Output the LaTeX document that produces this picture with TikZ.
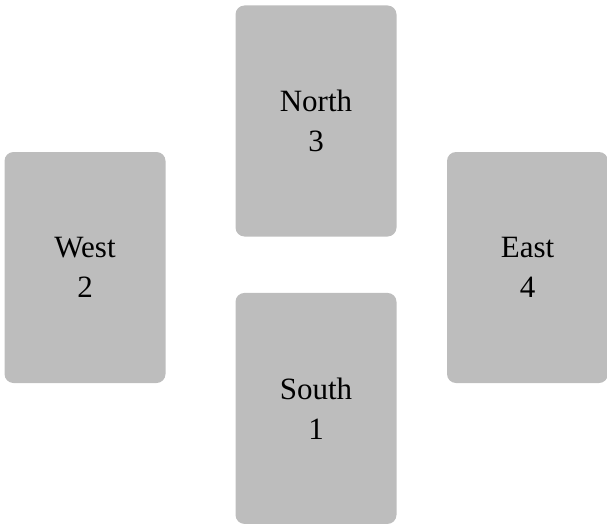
\documentclass[tikz,border=0pt]{standalone}
\usepackage{fontspec}
\setmainfont{Liberation Serif}
\usepackage{xcolor}
\usetikzlibrary{positioning}
\definecolor{cardfill}{HTML}{BDBDBD}
\tikzset{
  card/.style={fill=cardfill, rounded corners=9pt, minimum width=161pt, minimum height=231pt,
    align=center, inner sep=0pt, font=\fontsize{31}{40}\selectfont}
}

\begin{document}
\begin{tikzpicture}[x=1pt, y=-1pt]
  \useasboundingbox (0,0) rectangle (607,524);

  \node[card] (north) at (316,121) {North\\3};
  \node[card, below=56pt of north] (south) {South\\1};
  \node[card] (west) at (85,267.5) {West\\2};
  \node[card] (east) at (527.5,267.5) {East\\4};
\end{tikzpicture}
\end{document}
